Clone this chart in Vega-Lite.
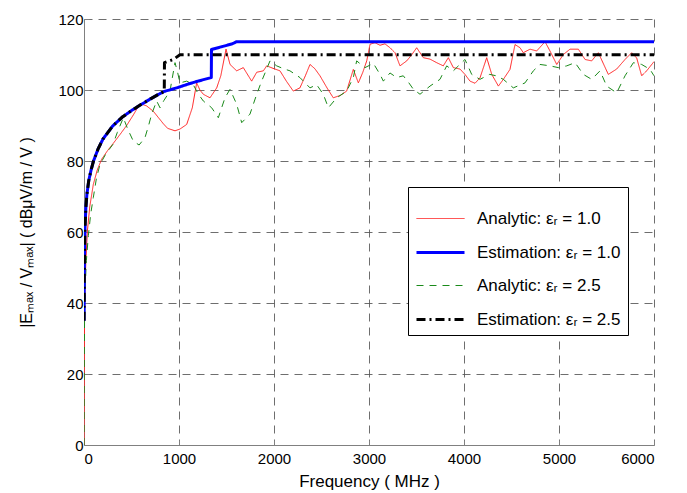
{
  "$schema": "https://vega.github.io/schema/vega-lite/v6.json",
  "width": 570,
  "height": 426,
  "autosize": {"type": "none"},
  "padding": {"left": 84, "top": 19, "right": 33, "bottom": 48},
  "background": "white",
  "config": {
    "font": "Liberation Sans",
    "view": {"stroke": null},
    "axis": {
      "labelFontSize": 15,
      "titleFontSize": 17,
      "labelColor": "#000",
      "titleColor": "#000",
      "titleFontWeight": "normal",
      "domainColor": "#808080",
      "domainWidth": 1,
      "tickColor": "#808080",
      "tickSize": -5,
      "grid": true,
      "gridColor": "#555",
      "gridDash": [8, 6],
      "gridWidth": 1,
      "gridOpacity": 0.85
    },
    "legend": {
      "orient": "none",
      "legendX": 324,
      "legendY": 168,
      "strokeColor": "#000",
      "fillColor": "#fff",
      "padding": 7,
      "symbolType": "stroke",
      "symbolSize": 2304,
      "labelFontSize": 17,
      "labelColor": "#000",
      "labelFont": "Liberation Sans",
      "rowPadding": 0,
      "labelOffset": 11,
      "labelLimit": 300
    }
  },
  "data": {
    "values": [
      {"series": "Analytic: εᵣ = 1.0", "f": 0, "v": 0},
      {"series": "Analytic: εᵣ = 1.0", "f": 3, "v": 25},
      {"series": "Analytic: εᵣ = 1.0", "f": 6, "v": 38},
      {"series": "Analytic: εᵣ = 1.0", "f": 12, "v": 46},
      {"series": "Analytic: εᵣ = 1.0", "f": 20, "v": 52},
      {"series": "Analytic: εᵣ = 1.0", "f": 35, "v": 60},
      {"series": "Analytic: εᵣ = 1.0", "f": 60, "v": 67},
      {"series": "Analytic: εᵣ = 1.0", "f": 98, "v": 73.4},
      {"series": "Analytic: εᵣ = 1.0", "f": 140, "v": 77.5},
      {"series": "Analytic: εᵣ = 1.0", "f": 186, "v": 80.5},
      {"series": "Analytic: εᵣ = 1.0", "f": 250, "v": 83},
      {"series": "Analytic: εᵣ = 1.0", "f": 309, "v": 85},
      {"series": "Analytic: εᵣ = 1.0", "f": 380, "v": 87.5},
      {"series": "Analytic: εᵣ = 1.0", "f": 449, "v": 90},
      {"series": "Analytic: εᵣ = 1.0", "f": 520, "v": 93},
      {"series": "Analytic: εᵣ = 1.0", "f": 590, "v": 96.2},
      {"series": "Analytic: εᵣ = 1.0", "f": 660, "v": 95.5},
      {"series": "Analytic: εᵣ = 1.0", "f": 730, "v": 94},
      {"series": "Analytic: εᵣ = 1.0", "f": 790, "v": 92},
      {"series": "Analytic: εᵣ = 1.0", "f": 835, "v": 90.5},
      {"series": "Analytic: εᵣ = 1.0", "f": 880, "v": 89.2},
      {"series": "Analytic: εᵣ = 1.0", "f": 958, "v": 88.5},
      {"series": "Analytic: εᵣ = 1.0", "f": 1010, "v": 89},
      {"series": "Analytic: εᵣ = 1.0", "f": 1081, "v": 90.3},
      {"series": "Analytic: εᵣ = 1.0", "f": 1140, "v": 95},
      {"series": "Analytic: εᵣ = 1.0", "f": 1186, "v": 102},
      {"series": "Analytic: εᵣ = 1.0", "f": 1220, "v": 100},
      {"series": "Analytic: εᵣ = 1.0", "f": 1256, "v": 98.8},
      {"series": "Analytic: εᵣ = 1.0", "f": 1326, "v": 97.8},
      {"series": "Analytic: εᵣ = 1.0", "f": 1397, "v": 100.6},
      {"series": "Analytic: εᵣ = 1.0", "f": 1440, "v": 104},
      {"series": "Analytic: εᵣ = 1.0", "f": 1495, "v": 111.5},
      {"series": "Analytic: εᵣ = 1.0", "f": 1537, "v": 107.2},
      {"series": "Analytic: εᵣ = 1.0", "f": 1607, "v": 105.4},
      {"series": "Analytic: εᵣ = 1.0", "f": 1677, "v": 106.3},
      {"series": "Analytic: εᵣ = 1.0", "f": 1730, "v": 104},
      {"series": "Analytic: εᵣ = 1.0", "f": 1765, "v": 102.5},
      {"series": "Analytic: εᵣ = 1.0", "f": 1818, "v": 105},
      {"series": "Analytic: εᵣ = 1.0", "f": 1888, "v": 105.4},
      {"series": "Analytic: εᵣ = 1.0", "f": 1923, "v": 106.8},
      {"series": "Analytic: εᵣ = 1.0", "f": 2000, "v": 106},
      {"series": "Analytic: εᵣ = 1.0", "f": 2063, "v": 105.4},
      {"series": "Analytic: εᵣ = 1.0", "f": 2130, "v": 102.5},
      {"series": "Analytic: εᵣ = 1.0", "f": 2203, "v": 99.7},
      {"series": "Analytic: εᵣ = 1.0", "f": 2273, "v": 100.6},
      {"series": "Analytic: εᵣ = 1.0", "f": 2330, "v": 104},
      {"series": "Analytic: εᵣ = 1.0", "f": 2379, "v": 107.2},
      {"series": "Analytic: εᵣ = 1.0", "f": 2430, "v": 106},
      {"series": "Analytic: εᵣ = 1.0", "f": 2484, "v": 104},
      {"series": "Analytic: εᵣ = 1.0", "f": 2560, "v": 100.5},
      {"series": "Analytic: εᵣ = 1.0", "f": 2624, "v": 97.8},
      {"series": "Analytic: εᵣ = 1.0", "f": 2700, "v": 98.5},
      {"series": "Analytic: εᵣ = 1.0", "f": 2765, "v": 99.7},
      {"series": "Analytic: εᵣ = 1.0", "f": 2835, "v": 105.8},
      {"series": "Analytic: εᵣ = 1.0", "f": 2888, "v": 102},
      {"series": "Analytic: εᵣ = 1.0", "f": 2935, "v": 105},
      {"series": "Analytic: εᵣ = 1.0", "f": 2976, "v": 108.2},
      {"series": "Analytic: εᵣ = 1.0", "f": 3011, "v": 112.9},
      {"series": "Analytic: εᵣ = 1.0", "f": 3063, "v": 113.3},
      {"series": "Analytic: εᵣ = 1.0", "f": 3116, "v": 112.6},
      {"series": "Analytic: εᵣ = 1.0", "f": 3168, "v": 113},
      {"series": "Analytic: εᵣ = 1.0", "f": 3221, "v": 111.9},
      {"series": "Analytic: εᵣ = 1.0", "f": 3274, "v": 110.5},
      {"series": "Analytic: εᵣ = 1.0", "f": 3326, "v": 106.8},
      {"series": "Analytic: εᵣ = 1.0", "f": 3397, "v": 108.2},
      {"series": "Analytic: εᵣ = 1.0", "f": 3449, "v": 109.9},
      {"series": "Analytic: εᵣ = 1.0", "f": 3502, "v": 111.9},
      {"series": "Analytic: εᵣ = 1.0", "f": 3572, "v": 109.1},
      {"series": "Analytic: εᵣ = 1.0", "f": 3642, "v": 108.7},
      {"series": "Analytic: εᵣ = 1.0", "f": 3712, "v": 107.7},
      {"series": "Analytic: εᵣ = 1.0", "f": 3782, "v": 106.8},
      {"series": "Analytic: εᵣ = 1.0", "f": 3835, "v": 109.1},
      {"series": "Analytic: εᵣ = 1.0", "f": 3888, "v": 106.3},
      {"series": "Analytic: εᵣ = 1.0", "f": 3958, "v": 105.9},
      {"series": "Analytic: εᵣ = 1.0", "f": 4010, "v": 104.4},
      {"series": "Analytic: εᵣ = 1.0", "f": 4063, "v": 102.5},
      {"series": "Analytic: εᵣ = 1.0", "f": 4116, "v": 101.9},
      {"series": "Analytic: εᵣ = 1.0", "f": 4168, "v": 103.4},
      {"series": "Analytic: εᵣ = 1.0", "f": 4239, "v": 109.1},
      {"series": "Analytic: εᵣ = 1.0", "f": 4292, "v": 104.4},
      {"series": "Analytic: εᵣ = 1.0", "f": 4362, "v": 101.1},
      {"series": "Analytic: εᵣ = 1.0", "f": 4414, "v": 103},
      {"series": "Analytic: εᵣ = 1.0", "f": 4484, "v": 105.8},
      {"series": "Analytic: εᵣ = 1.0", "f": 4537, "v": 112.8},
      {"series": "Analytic: εᵣ = 1.0", "f": 4590, "v": 111.9},
      {"series": "Analytic: εᵣ = 1.0", "f": 4624, "v": 110.5},
      {"series": "Analytic: εᵣ = 1.0", "f": 4695, "v": 111.5},
      {"series": "Analytic: εᵣ = 1.0", "f": 4765, "v": 111},
      {"series": "Analytic: εᵣ = 1.0", "f": 4853, "v": 113.6},
      {"series": "Analytic: εᵣ = 1.0", "f": 4905, "v": 111},
      {"series": "Analytic: εᵣ = 1.0", "f": 4976, "v": 107.2},
      {"series": "Analytic: εᵣ = 1.0", "f": 5046, "v": 110},
      {"series": "Analytic: εᵣ = 1.0", "f": 5116, "v": 111.5},
      {"series": "Analytic: εᵣ = 1.0", "f": 5204, "v": 111.5},
      {"series": "Analytic: εᵣ = 1.0", "f": 5274, "v": 108.6},
      {"series": "Analytic: εᵣ = 1.0", "f": 5344, "v": 108.2},
      {"series": "Analytic: εᵣ = 1.0", "f": 5414, "v": 110.5},
      {"series": "Analytic: εᵣ = 1.0", "f": 5519, "v": 104.4},
      {"series": "Analytic: εᵣ = 1.0", "f": 5607, "v": 105.9},
      {"series": "Analytic: εᵣ = 1.0", "f": 5695, "v": 108.6},
      {"series": "Analytic: εᵣ = 1.0", "f": 5765, "v": 110.5},
      {"series": "Analytic: εᵣ = 1.0", "f": 5818, "v": 109},
      {"series": "Analytic: εᵣ = 1.0", "f": 5870, "v": 104},
      {"series": "Analytic: εᵣ = 1.0", "f": 5923, "v": 105.4},
      {"series": "Analytic: εᵣ = 1.0", "f": 6000, "v": 108},

      {"series": "Analytic: εᵣ = 2.5", "f": 0, "v": 0},
      {"series": "Analytic: εᵣ = 2.5", "f": 3, "v": 22},
      {"series": "Analytic: εᵣ = 2.5", "f": 6, "v": 36},
      {"series": "Analytic: εᵣ = 2.5", "f": 12, "v": 44},
      {"series": "Analytic: εᵣ = 2.5", "f": 25, "v": 52},
      {"series": "Analytic: εᵣ = 2.5", "f": 46, "v": 59},
      {"series": "Analytic: εᵣ = 2.5", "f": 70, "v": 65},
      {"series": "Analytic: εᵣ = 2.5", "f": 98, "v": 69.7},
      {"series": "Analytic: εᵣ = 2.5", "f": 130, "v": 75},
      {"series": "Analytic: εᵣ = 2.5", "f": 168, "v": 79},
      {"series": "Analytic: εᵣ = 2.5", "f": 230, "v": 82},
      {"series": "Analytic: εᵣ = 2.5", "f": 305, "v": 84.7},
      {"series": "Analytic: εᵣ = 2.5", "f": 350, "v": 88},
      {"series": "Analytic: εᵣ = 2.5", "f": 414, "v": 92.2},
      {"series": "Analytic: εᵣ = 2.5", "f": 460, "v": 89},
      {"series": "Analytic: εᵣ = 2.5", "f": 519, "v": 85.6},
      {"series": "Analytic: εᵣ = 2.5", "f": 580, "v": 84.5},
      {"series": "Analytic: εᵣ = 2.5", "f": 642, "v": 86.6},
      {"series": "Analytic: εᵣ = 2.5", "f": 680, "v": 90},
      {"series": "Analytic: εᵣ = 2.5", "f": 712, "v": 93.2},
      {"series": "Analytic: εᵣ = 2.5", "f": 765, "v": 96.9},
      {"series": "Analytic: εᵣ = 2.5", "f": 800, "v": 95},
      {"series": "Analytic: εᵣ = 2.5", "f": 840, "v": 97},
      {"series": "Analytic: εᵣ = 2.5", "f": 905, "v": 99.7},
      {"series": "Analytic: εᵣ = 2.5", "f": 958, "v": 107.7},
      {"series": "Analytic: εᵣ = 2.5", "f": 985, "v": 105},
      {"series": "Analytic: εᵣ = 2.5", "f": 1010, "v": 102},
      {"series": "Analytic: εᵣ = 2.5", "f": 1081, "v": 102.5},
      {"series": "Analytic: εᵣ = 2.5", "f": 1150, "v": 101.5},
      {"series": "Analytic: εᵣ = 2.5", "f": 1200, "v": 99},
      {"series": "Analytic: εᵣ = 2.5", "f": 1256, "v": 96.9},
      {"series": "Analytic: εᵣ = 2.5", "f": 1344, "v": 95},
      {"series": "Analytic: εᵣ = 2.5", "f": 1414, "v": 92.2},
      {"series": "Analytic: εᵣ = 2.5", "f": 1484, "v": 97.8},
      {"series": "Analytic: εᵣ = 2.5", "f": 1537, "v": 100.2},
      {"series": "Analytic: εᵣ = 2.5", "f": 1607, "v": 96},
      {"series": "Analytic: εᵣ = 2.5", "f": 1660, "v": 90.8},
      {"series": "Analytic: εᵣ = 2.5", "f": 1747, "v": 93.2},
      {"series": "Analytic: εᵣ = 2.5", "f": 1818, "v": 98.8},
      {"series": "Analytic: εᵣ = 2.5", "f": 1870, "v": 102.5},
      {"series": "Analytic: εᵣ = 2.5", "f": 1958, "v": 108.2},
      {"series": "Analytic: εᵣ = 2.5", "f": 2028, "v": 106.8},
      {"series": "Analytic: εᵣ = 2.5", "f": 2100, "v": 106},
      {"series": "Analytic: εᵣ = 2.5", "f": 2168, "v": 105.4},
      {"series": "Analytic: εᵣ = 2.5", "f": 2273, "v": 103.5},
      {"series": "Analytic: εᵣ = 2.5", "f": 2379, "v": 100.6},
      {"series": "Analytic: εᵣ = 2.5", "f": 2449, "v": 101.5},
      {"series": "Analytic: εᵣ = 2.5", "f": 2519, "v": 98.8},
      {"series": "Analytic: εᵣ = 2.5", "f": 2572, "v": 95},
      {"series": "Analytic: εᵣ = 2.5", "f": 2660, "v": 97.8},
      {"series": "Analytic: εᵣ = 2.5", "f": 2765, "v": 99.7},
      {"series": "Analytic: εᵣ = 2.5", "f": 2835, "v": 103.5},
      {"series": "Analytic: εᵣ = 2.5", "f": 2870, "v": 108.2},
      {"series": "Analytic: εᵣ = 2.5", "f": 2958, "v": 106.3},
      {"series": "Analytic: εᵣ = 2.5", "f": 3046, "v": 107.5},
      {"series": "Analytic: εᵣ = 2.5", "f": 3116, "v": 104.4},
      {"series": "Analytic: εᵣ = 2.5", "f": 3151, "v": 102.5},
      {"series": "Analytic: εᵣ = 2.5", "f": 3221, "v": 104.8},
      {"series": "Analytic: εᵣ = 2.5", "f": 3291, "v": 103.5},
      {"series": "Analytic: εᵣ = 2.5", "f": 3361, "v": 104},
      {"series": "Analytic: εᵣ = 2.5", "f": 3420, "v": 102},
      {"series": "Analytic: εᵣ = 2.5", "f": 3467, "v": 100.2},
      {"series": "Analytic: εᵣ = 2.5", "f": 3537, "v": 98.8},
      {"series": "Analytic: εᵣ = 2.5", "f": 3642, "v": 101.1},
      {"series": "Analytic: εᵣ = 2.5", "f": 3747, "v": 103},
      {"series": "Analytic: εᵣ = 2.5", "f": 3818, "v": 106.8},
      {"series": "Analytic: εᵣ = 2.5", "f": 3888, "v": 105.4},
      {"series": "Analytic: εᵣ = 2.5", "f": 4010, "v": 108.6},
      {"series": "Analytic: εᵣ = 2.5", "f": 4081, "v": 104.4},
      {"series": "Analytic: εᵣ = 2.5", "f": 4168, "v": 103},
      {"series": "Analytic: εᵣ = 2.5", "f": 4270, "v": 104.4},
      {"series": "Analytic: εᵣ = 2.5", "f": 4340, "v": 104},
      {"series": "Analytic: εᵣ = 2.5", "f": 4414, "v": 103},
      {"series": "Analytic: εᵣ = 2.5", "f": 4519, "v": 100.6},
      {"series": "Analytic: εᵣ = 2.5", "f": 4642, "v": 102},
      {"series": "Analytic: εᵣ = 2.5", "f": 4730, "v": 105.4},
      {"series": "Analytic: εᵣ = 2.5", "f": 4800, "v": 107.2},
      {"series": "Analytic: εᵣ = 2.5", "f": 4905, "v": 106.8},
      {"series": "Analytic: εᵣ = 2.5", "f": 4993, "v": 106.3},
      {"series": "Analytic: εᵣ = 2.5", "f": 5081, "v": 106.8},
      {"series": "Analytic: εᵣ = 2.5", "f": 5169, "v": 107.7},
      {"series": "Analytic: εᵣ = 2.5", "f": 5256, "v": 104.4},
      {"series": "Analytic: εᵣ = 2.5", "f": 5344, "v": 103},
      {"series": "Analytic: εᵣ = 2.5", "f": 5432, "v": 105.4},
      {"series": "Analytic: εᵣ = 2.5", "f": 5502, "v": 101.1},
      {"series": "Analytic: εᵣ = 2.5", "f": 5607, "v": 99.2},
      {"series": "Analytic: εᵣ = 2.5", "f": 5695, "v": 104},
      {"series": "Analytic: εᵣ = 2.5", "f": 5783, "v": 107.7},
      {"series": "Analytic: εᵣ = 2.5", "f": 5870, "v": 107.2},
      {"series": "Analytic: εᵣ = 2.5", "f": 5958, "v": 105.8},
      {"series": "Analytic: εᵣ = 2.5", "f": 6000, "v": 104},

      {"series": "Estimation: εᵣ = 1.0", "f": 1, "v": 35},
      {"series": "Estimation: εᵣ = 1.0", "f": 3, "v": 48},
      {"series": "Estimation: εᵣ = 1.0", "f": 6, "v": 55},
      {"series": "Estimation: εᵣ = 1.0", "f": 10, "v": 61},
      {"series": "Estimation: εᵣ = 1.0", "f": 20, "v": 67},
      {"series": "Estimation: εᵣ = 1.0", "f": 30, "v": 70.5},
      {"series": "Estimation: εᵣ = 1.0", "f": 50, "v": 74.5},
      {"series": "Estimation: εᵣ = 1.0", "f": 75, "v": 77.5},
      {"series": "Estimation: εᵣ = 1.0", "f": 100, "v": 80},
      {"series": "Estimation: εᵣ = 1.0", "f": 150, "v": 83.5},
      {"series": "Estimation: εᵣ = 1.0", "f": 200, "v": 86.2},
      {"series": "Estimation: εᵣ = 1.0", "f": 300, "v": 89.8},
      {"series": "Estimation: εᵣ = 1.0", "f": 400, "v": 92.3},
      {"series": "Estimation: εᵣ = 1.0", "f": 500, "v": 94.2},
      {"series": "Estimation: εᵣ = 1.0", "f": 600, "v": 95.9},
      {"series": "Estimation: εᵣ = 1.0", "f": 700, "v": 97.5},
      {"series": "Estimation: εᵣ = 1.0", "f": 800, "v": 99},
      {"series": "Estimation: εᵣ = 1.0", "f": 845, "v": 99.6},
      {"series": "Estimation: εᵣ = 1.0", "f": 900, "v": 100},
      {"series": "Estimation: εᵣ = 1.0", "f": 1000, "v": 100.8},
      {"series": "Estimation: εᵣ = 1.0", "f": 1100, "v": 101.7},
      {"series": "Estimation: εᵣ = 1.0", "f": 1200, "v": 102.5},
      {"series": "Estimation: εᵣ = 1.0", "f": 1340, "v": 103.5},
      {"series": "Estimation: εᵣ = 1.0", "f": 1342, "v": 111.4},
      {"series": "Estimation: εᵣ = 1.0", "f": 1450, "v": 112.2},
      {"series": "Estimation: εᵣ = 1.0", "f": 1560, "v": 113},
      {"series": "Estimation: εᵣ = 1.0", "f": 1607, "v": 113.6},
      {"series": "Estimation: εᵣ = 1.0", "f": 6000, "v": 113.6},

      {"series": "Estimation: εᵣ = 2.5", "f": 1, "v": 35},
      {"series": "Estimation: εᵣ = 2.5", "f": 3, "v": 48},
      {"series": "Estimation: εᵣ = 2.5", "f": 6, "v": 55},
      {"series": "Estimation: εᵣ = 2.5", "f": 10, "v": 61},
      {"series": "Estimation: εᵣ = 2.5", "f": 20, "v": 67},
      {"series": "Estimation: εᵣ = 2.5", "f": 30, "v": 70.5},
      {"series": "Estimation: εᵣ = 2.5", "f": 50, "v": 74.5},
      {"series": "Estimation: εᵣ = 2.5", "f": 75, "v": 77.5},
      {"series": "Estimation: εᵣ = 2.5", "f": 100, "v": 80},
      {"series": "Estimation: εᵣ = 2.5", "f": 150, "v": 83.5},
      {"series": "Estimation: εᵣ = 2.5", "f": 200, "v": 86.2},
      {"series": "Estimation: εᵣ = 2.5", "f": 300, "v": 89.8},
      {"series": "Estimation: εᵣ = 2.5", "f": 400, "v": 92.3},
      {"series": "Estimation: εᵣ = 2.5", "f": 500, "v": 94.2},
      {"series": "Estimation: εᵣ = 2.5", "f": 600, "v": 95.9},
      {"series": "Estimation: εᵣ = 2.5", "f": 700, "v": 97.5},
      {"series": "Estimation: εᵣ = 2.5", "f": 800, "v": 99},
      {"series": "Estimation: εᵣ = 2.5", "f": 845, "v": 99.6},
      {"series": "Estimation: εᵣ = 2.5", "f": 847, "v": 107.7},
      {"series": "Estimation: εᵣ = 2.5", "f": 940, "v": 108.6},
      {"series": "Estimation: εᵣ = 2.5", "f": 1010, "v": 109.9},
      {"series": "Estimation: εᵣ = 2.5", "f": 6000, "v": 109.9}
    ]
  },
  "mark": {"type": "line", "clip": true, "strokeJoin": "round"},
  "encoding": {
    "x": {
      "field": "f",
      "type": "quantitative",
      "scale": {"domain": [0, 6000], "nice": false},
      "axis": {
        "values": [0, 1000, 2000, 3000, 4000, 5000, 6000],
        "format": "d",
        "title": "Frequency ( MHz )",
        "labelPadding": 11,
        "titlePadding": 7
      }
    },
    "y": {
      "field": "v",
      "type": "quantitative",
      "scale": {"domain": [0, 120], "nice": false},
      "axis": {
        "values": [0, 20, 40, 60, 80, 100, 120],
        "title": "|Eₘₐₓ / Vₘₐₓ| ( dBμV/m / V )",
        "titleFontSize": 16,
        "labelPadding": 6,
        "titlePadding": 23
      }
    },
    "color": {
      "field": "series",
      "type": "nominal",
      "scale": {
        "domain": ["Analytic: εᵣ = 1.0", "Estimation: εᵣ = 1.0", "Analytic: εᵣ = 2.5", "Estimation: εᵣ = 2.5"],
        "range": ["#ff2020", "#0000ff", "#1a8a1a", "#000000"]
      },
      "legend": {"title": null}
    },
    "strokeDash": {
      "field": "series",
      "type": "nominal",
      "scale": {
        "domain": ["Analytic: εᵣ = 1.0", "Estimation: εᵣ = 1.0", "Analytic: εᵣ = 2.5", "Estimation: εᵣ = 2.5"],
        "range": [[1, 0], [1, 0], [7, 6], [9, 4, 2, 4]]
      },
      "legend": {"title": null}
    },
    "strokeWidth": {
      "field": "series",
      "type": "nominal",
      "scale": {
        "type": "ordinal",
        "domain": ["Analytic: εᵣ = 1.0", "Estimation: εᵣ = 1.0", "Analytic: εᵣ = 2.5", "Estimation: εᵣ = 2.5"],
        "range": [1, 3, 1, 3]
      },
      "legend": {"title": null}
    }
  }
}
